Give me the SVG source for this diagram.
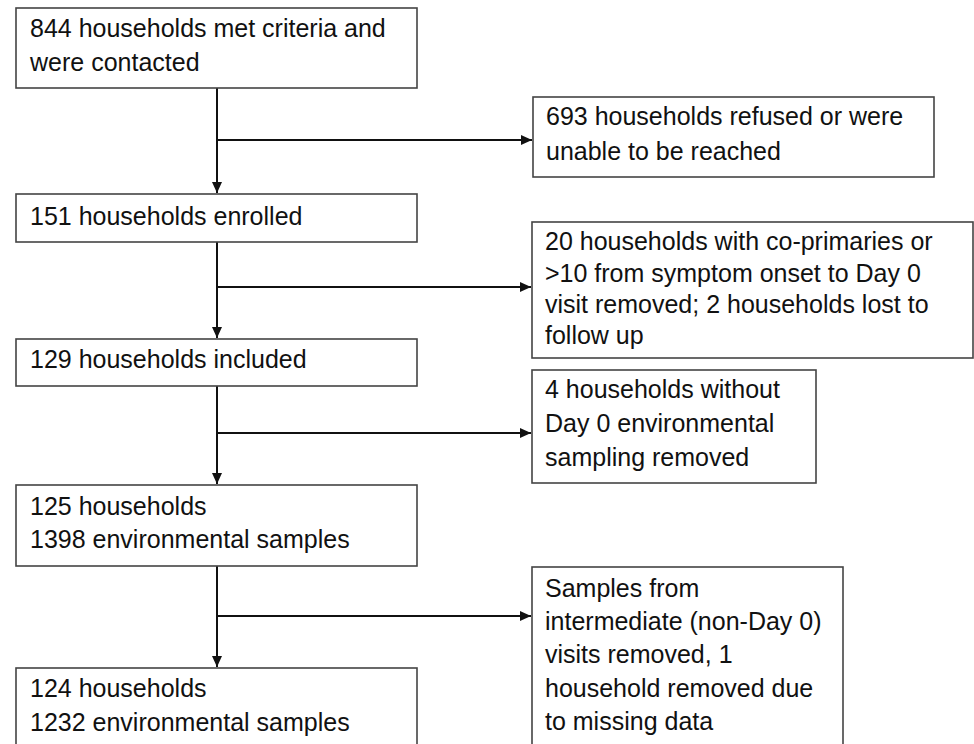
<svg xmlns="http://www.w3.org/2000/svg" width="974" height="744" viewBox="0 0 974 744">
<style>
.box{fill:#fff;stroke:#444;stroke-width:1.6}
.t{font-family:"Liberation Sans",Arial,sans-serif;font-size:25px;fill:#111}
.c{fill:none;stroke:#111;stroke-width:2}
</style>
<defs>
<marker id="ah" markerUnits="userSpaceOnUse" markerWidth="12" markerHeight="12" viewBox="0 0 12 12" refX="11" refY="6" orient="auto">
<path d="M0,1 L11,6 L0,11 Z" fill="#111"/>
</marker>
</defs>
<rect width="974" height="744" fill="#fff"/>
<g id="connectors">
<line class="c" x1="217" y1="88" x2="217" y2="193" marker-end="url(#ah)"/>
<line class="c" x1="217" y1="140" x2="532" y2="140" marker-end="url(#ah)"/>
<line class="c" x1="217" y1="242" x2="217" y2="338" marker-end="url(#ah)"/>
<line class="c" x1="217" y1="287" x2="531" y2="287" marker-end="url(#ah)"/>
<line class="c" x1="217" y1="386" x2="217" y2="484" marker-end="url(#ah)"/>
<line class="c" x1="217" y1="433" x2="531" y2="433" marker-end="url(#ah)"/>
<line class="c" x1="217" y1="566" x2="217" y2="667" marker-end="url(#ah)"/>
<line class="c" x1="217" y1="616" x2="531" y2="616" marker-end="url(#ah)"/>
</g>
<g id="n1"><rect class="box" x="16" y="8" width="401" height="80"/>
<text class="t" x="30" y="37">844 households met criteria and</text>
<text class="t" x="30" y="71">were contacted</text></g>
<g id="n2"><rect class="box" x="533" y="97" width="401" height="80"/>
<text class="t" x="546" y="125">693 households refused or were</text>
<text class="t" x="546" y="160">unable to be reached</text></g>
<g id="n3"><rect class="box" x="16" y="194" width="401" height="48"/>
<text class="t" x="30" y="225">151 households enrolled</text></g>
<g id="n4"><rect class="box" x="532" y="222" width="441" height="136"/>
<text class="t" x="545" y="250">20 households with co-primaries or</text>
<text class="t" x="545" y="282">&gt;10 from symptom onset to Day 0</text>
<text class="t" x="545" y="313">visit removed; 2 households lost to</text>
<text class="t" x="545" y="344">follow up</text></g>
<g id="n5"><rect class="box" x="16" y="339" width="401" height="47"/>
<text class="t" x="30" y="368">129 households included</text></g>
<g id="n6"><rect class="box" x="532" y="370" width="284" height="113"/>
<text class="t" x="545" y="398">4 households without</text>
<text class="t" x="545" y="432">Day 0 environmental</text>
<text class="t" x="545" y="466">sampling removed</text></g>
<g id="n7"><rect class="box" x="16" y="485" width="401" height="81"/>
<text class="t" x="30" y="515">125 households</text>
<text class="t" x="30" y="548">1398 environmental samples</text></g>
<g id="n8"><rect class="box" x="532" y="567" width="311" height="200"/>
<text class="t" x="545" y="597">Samples from</text>
<text class="t" x="545" y="630">intermediate (non-Day 0)</text>
<text class="t" x="545" y="663">visits removed, 1</text>
<text class="t" x="545" y="697">household removed due</text>
<text class="t" x="545" y="730">to missing data</text></g>
<g id="n9"><rect class="box" x="16" y="668" width="401" height="100"/>
<text class="t" x="30" y="697">124 households</text>
<text class="t" x="30" y="731">1232 environmental samples</text></g>
</svg>
